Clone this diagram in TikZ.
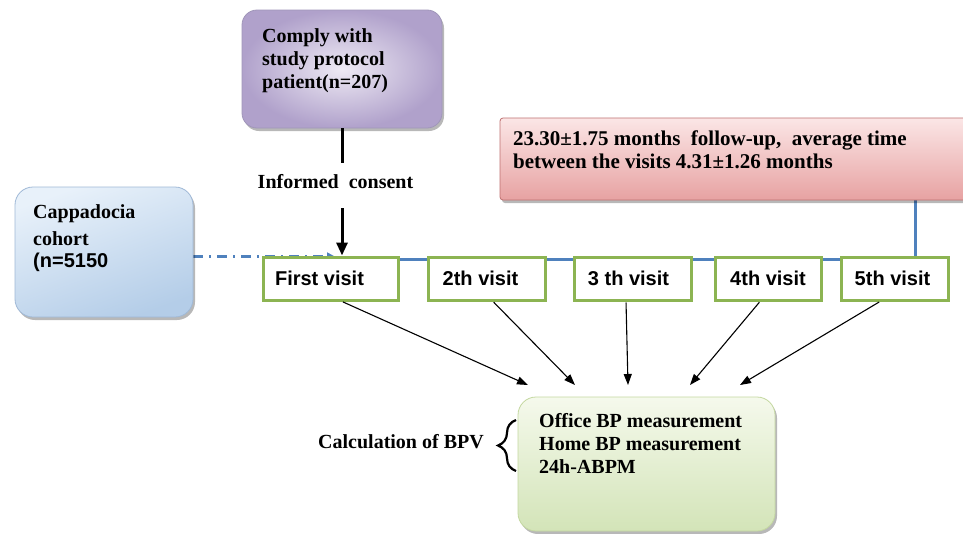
\documentclass[tikz,border=0pt]{standalone}
\usepackage{fontspec}
\setmainfont{Liberation Serif}
\newfontfamily\sansf{Liberation Sans}
\usetikzlibrary{arrows.meta,shadows,decorations.pathreplacing,backgrounds}

\definecolor{visitgreen}{RGB}{140,180,82}
\definecolor{lineblue}{RGB}{79,129,189}
\definecolor{purpleIn}{RGB}{238,234,244}
\definecolor{purpleOut}{RGB}{176,161,203}
\definecolor{purpleEdge}{RGB}{160,150,185}
\definecolor{blueTop}{RGB}{232,241,250}
\definecolor{blueBot}{RGB}{180,205,232}
\definecolor{blueEdge}{RGB}{160,185,215}
\definecolor{redTop}{RGB}{251,230,230}
\definecolor{redBot}{RGB}{231,162,162}
\definecolor{redEdge}{RGB}{190,112,112}
\definecolor{greenTop}{RGB}{245,249,236}
\definecolor{greenBot}{RGB}{211,228,184}
\definecolor{greenEdge}{RGB}{196,216,160}

\tikzset{
  boxshadow/.style={drop shadow={shadow xshift=2pt,shadow yshift=-3pt,fill=black,opacity=0.28}},
  purplebox/.style={draw=purpleEdge, line width=0.8pt, rounded corners=15pt, inner color=purpleIn, outer color=purpleOut, boxshadow, minimum width=200pt, minimum height=118pt},
  cohortbox/.style={draw=blueEdge, line width=0.8pt, rounded corners=18pt, top color=blueTop, bottom color=blueBot, shading angle=20, boxshadow, minimum width=178pt, minimum height=130pt},
  redbox/.style={draw=redEdge, line width=0.8pt, rounded corners=3pt, top color=redTop, bottom color=redBot, boxshadow, minimum width=475pt, minimum height=82pt},
  greenbox/.style={draw=greenEdge, line width=0.8pt, rounded corners=18pt, top color=greenTop, bottom color=greenBot, boxshadow, minimum width=257pt, minimum height=134pt},
  boxtext/.style={inner sep=0pt, anchor=north west, align=left, font=\bfseries\fontsize{20}{23}\selectfont},
  plaintext/.style={inner sep=0pt, font=\bfseries\fontsize{20}{23}\selectfont},
  visitbox/.style={draw=visitgreen, line width=3pt, fill=white, minimum height=43pt, inner sep=0pt, font=\sansf\bfseries\fontsize{20}{24}\selectfont},
  thinarrow/.style={-{Triangle[length=11pt,width=8pt]}, line width=1.1pt, shorten <=1pt},
  bigline/.style={line width=3pt},
  bigarrow/.style={-{Triangle[length=13pt,width=11pt]}, line width=3pt},
  blueline/.style={lineblue, line width=3pt},
}

\begin{document}
\begin{tikzpicture}[x=1pt,y=-1pt]
\useasboundingbox (0,0) rectangle (963,533);

% boxes
\node[purplebox] (comply) at (342,69) {};
\node[boxtext] (complytext) at (262,28.4) {Comply with\\study protocol\\patient(n=207)};

\node[cohortbox] (cohort) at (104,252) {};
\node[boxtext, font=\bfseries\fontsize{20}{26.7}\selectfont] (cohorttext) at (33,204.4) {Cappadocia\\cohort\\[-4.4pt]{\sansf\bfseries (n=5150}};

\node[redbox] (followup) at (737.5,159) {};
\node[boxtext, font=\bfseries\fontsize{21}{23}\selectfont] (followtext) at (513,130.7) {23.30±1.75 months\ \ follow-up,\ \ average time\\between the visits 4.31±1.26 months};

\node[greenbox] (calc) at (646.5,464) {};
\node[boxtext] (calctext) at (539,413.3) {Office BP measurement\\Home BP measurement\\24h-ABPM};

\node[plaintext, anchor=base west] (bpv) at (318,448) {Calculation of BPV};
\node[plaintext, anchor=base] (consent) at (335.5,188) {Informed\ \ consent};

% visits
\node[visitbox, minimum width=135pt] (v1) at (330.5,278.5) {First visit\hspace*{22pt}};
\node[visitbox, minimum width=117pt] (v2) at (486.5,278.5) {2th visit\hspace*{12pt}};
\node[visitbox, minimum width=117pt] (v3) at (632.5,278.5) {3 th visit\hspace*{8pt}};
\node[visitbox, minimum width=106pt] (v4) at (768,278.5) {4th visit};
\node[visitbox, minimum width=107pt] (v5) at (894.5,278.5) {5th visit\hspace*{4pt}};

% background lines
\coordinate (ly) at (0,259);
\coordinate (dd) at (334,256);
\coordinate (vtop) at ([xshift=20.5pt]v5.north);
\begin{scope}[on background layer]
  \fill[white] (0,0) rectangle (963,533);
  \draw[blueline, dash pattern=on 10pt off 6pt on 2pt off 6pt, -{Triangle[length=7pt,width=7pt]}] (cohort.east |- dd) -- (dd);
  \draw[blueline] (v1.east |- ly) -- (v5.west |- ly);
  \draw[blueline] (vtop) -- (vtop |- followup.south);
\end{scope}

% informed consent arrow
\coordinate (c1) at (342,163);
\coordinate (c2) at (342,208);
\draw[bigline] (comply.south) -- (c1);
\draw[bigarrow] (c2) -- (v1.north -| c2);

% arrows to measurement box
\coordinate (a1) at (528,385);
\coordinate (a2) at (575,385);
\coordinate (a3) at (628,385);
\coordinate (a4) at (690,385);
\coordinate (a5) at (740,385);
\draw[thinarrow] ([xshift=11.5pt]v1.south) -- (a1);
\draw[thinarrow] ([xshift=6.5pt]v2.south) -- (a2);
\draw[thinarrow] ([xshift=-6.5pt]v3.south) -- (a3);
\draw[thinarrow] ([xshift=-8pt]v4.south) -- (a4);
\draw[thinarrow] ([xshift=-14.5pt]v5.south) -- (a5);

% brace
\draw[line width=2.2pt, decorate, decoration={brace, amplitude=18pt}] (516,471) -- (516,420);
\end{tikzpicture}
\end{document}
